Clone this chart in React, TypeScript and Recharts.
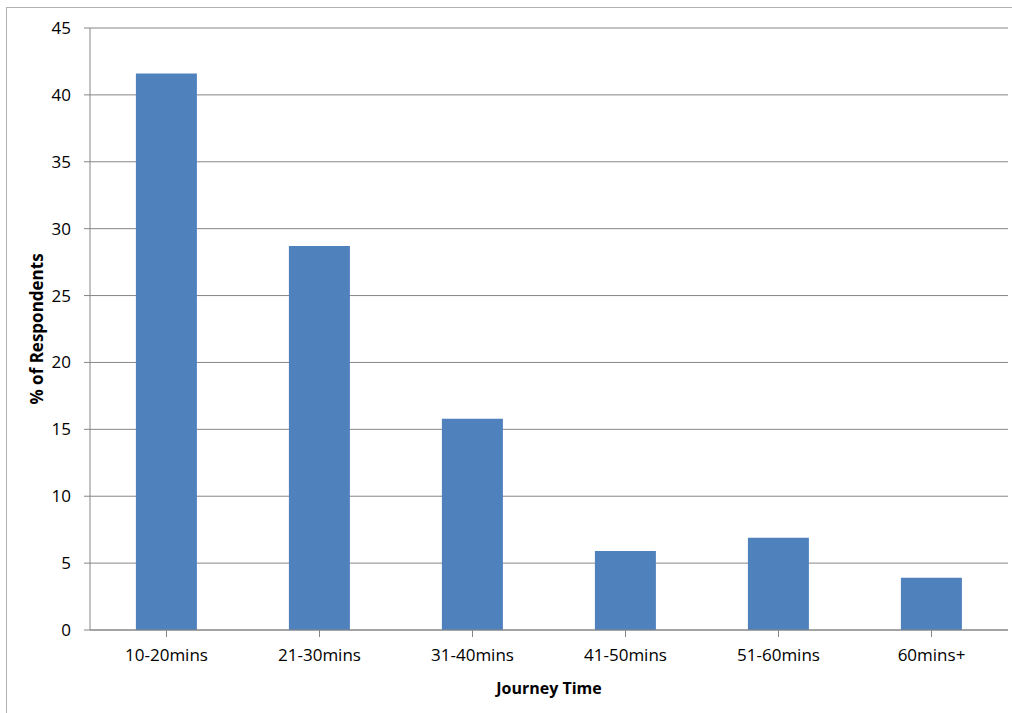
import React from 'react';
import { BarChart, Bar, XAxis, YAxis, CartesianGrid } from 'recharts';

const categories = ['10-20mins', '21-30mins', '31-40mins', '41-50mins', '51-60mins', '60mins+'];
const respondents = [41.6, 28.7, 15.8, 5.9, 6.9, 3.9];
const yTicks = [0, 5, 10, 15, 20, 25, 30, 35, 40, 45];

const data = categories.map((name, i) => ({ name, value: respondents[i] }));

const FONT = '"Open Sans", "Noto Sans", sans-serif';
const AXIS = '#868686';

const App: React.FC = () => {
  return (
    <div style={{ position: 'absolute', left: 0, top: 0, width: 1012, height: 713, background: '#fff', overflow: 'hidden' }}>
      <div
        style={{
          position: 'absolute',
          left: 6,
          top: 7,
          width: 1100,
          height: 800,
          borderLeft: '1px solid #b0b0b0',
          borderTop: '1px solid #b0b0b0',
        }}
      />
      <div style={{ position: 'absolute', left: 0, top: 0 }}>
        <BarChart
          width={1012}
          height={713}
          data={data}
          margin={{ top: 28, right: 4, left: 0, bottom: 0 }}
          barCategoryGap="30%"
          style={{ fontFamily: FONT }}
        >
          <CartesianGrid vertical={false} stroke={AXIS} strokeWidth={1} />
          <XAxis
            dataKey="name"
            height={83}
            stroke={AXIS}
            tickSize={7}
            tickMargin={12}
            tick={{ fill: '#000', fontSize: 17, fontFamily: FONT }}
            label={{
              value: 'Journey Time',
              position: 'insideBottom',
              offset: 19,
              style: { fill: '#000', fontWeight: 'bold', fontSize: 16, fontFamily: FONT },
            }}
          />
          <YAxis
            domain={[0, 45]}
            ticks={yTicks}
            width={90}
            stroke={AXIS}
            tickSize={6}
            tickMargin={13}
            interval={0}
            tick={{ fill: '#000', fontSize: 17, fontFamily: FONT }}
            label={{
              value: '% of Respondents',
              angle: -90,
              position: 'insideLeft',
              offset: 37,
              style: { fill: '#000', fontWeight: 'bold', fontSize: 17, fontFamily: FONT, textAnchor: 'middle' },
            }}
          />
          <Bar dataKey="value" fill="#4F81BD" isAnimationActive={false} />
        </BarChart>
      </div>
    </div>
  );
};

export default App;
